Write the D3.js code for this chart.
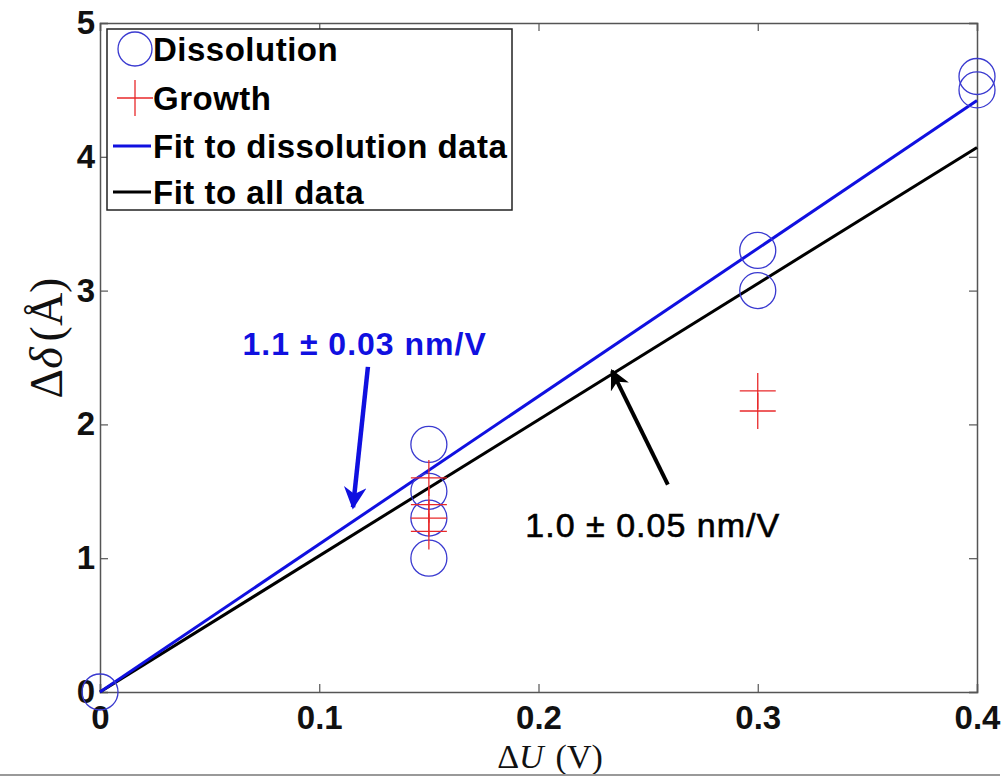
<!DOCTYPE html>
<html>
<head>
<meta charset="utf-8">
<script src="https://cdn.jsdelivr.net/npm/d3@7"></script>
<style>
  body { margin: 0; background: #fff; }
</style>
</head>
<body>
<div id="my_dataviz"></div>
<script>
// data
const dissolutionU = [0, 0.15, 0.15, 0.15, 0.15, 0.3, 0.3, 0.4, 0.4];
const dissolutionD = [0, 1.85, 1.5, 1.3, 1.0, 3.3, 3.0, 4.6, 4.5];
const growthU = [0.15, 0.15, 0.15, 0.15, 0.3, 0.3];
const growthD = [1.6, 1.4, 1.3, 1.2, 2.25, 2.1];
const fitDissolution = [[0, 0], [0.4, 4.42]];
const fitAll = [[0, 0], [0.4, 4.07]];
const xTicks = [0, 0.1, 0.2, 0.3, 0.4];
const yTicks = [0, 1, 2, 3, 4, 5];
const legendLabels = ["Dissolution", "Growth", "Fit to dissolution data", "Fit to all data"];

const W = 1008, H = 778;
const margin = { top: 23, right: 31, bottom: 86, left: 100 },
      width = W - margin.left - margin.right,
      height = H - margin.top - margin.bottom;

const root = d3.select("#my_dataviz")
  .append("svg")
  .attr("width", W)
  .attr("height", H);

const svg = root.append("g")
  .attr("transform", `translate(${margin.left},${margin.top})`);

const x = d3.scaleLinear().domain([0, 0.4]).range([0, width]);
const y = d3.scaleLinear().domain([0, 5]).range([height, 0]);

const tickFont = "'Liberation Sans', Arial, sans-serif";
const axisColor = "#555";

// axes (ticks inside, on all four sides)
const fmtX = d => d === 0 ? "0" : d3.format(".1f")(d);
const bottomAxis = svg.append("g")
  .attr("transform", `translate(0,${height})`)
  .call(d3.axisBottom(x).tickValues(xTicks).tickSize(-8).tickPadding(14).tickFormat(fmtX));
const leftAxis = svg.append("g")
  .call(d3.axisLeft(y).tickValues(yTicks).tickSize(-8).tickPadding(5).tickFormat(d3.format("d")));
const topAxis = svg.append("g")
  .call(d3.axisTop(x).tickValues(xTicks).tickSize(-8).tickFormat(""));
const rightAxis = svg.append("g")
  .attr("transform", `translate(${width},0)`)
  .call(d3.axisRight(y).tickValues(yTicks).tickSize(-8).tickFormat(""));

[bottomAxis, leftAxis, topAxis, rightAxis].forEach(a => {
  a.select(".domain").attr("stroke", axisColor).attr("stroke-width", 1.5);
  a.selectAll(".tick line").attr("stroke", axisColor).attr("stroke-width", 1.2);
  a.selectAll(".tick text")
    .attr("fill", "#111")
    .style("font-family", tickFont)
    .style("font-weight", "bold")
    .style("font-size", "33px");
});

// fit lines
const line = d3.line().x(d => x(d[0])).y(d => y(d[1]));
svg.append("path")
  .datum(fitAll)
  .attr("fill", "none")
  .attr("stroke", "#000")
  .attr("stroke-width", 3)
  .attr("d", line);
svg.append("path")
  .datum(fitDissolution)
  .attr("fill", "none")
  .attr("stroke", "#1010e0")
  .attr("stroke-width", 3)
  .attr("d", line);

// dissolution circles
const circleColor = "#3a3ad0";
svg.selectAll("circle.diss")
  .data(dissolutionU.map((u, i) => [u, dissolutionD[i]]))
  .enter()
  .append("circle")
  .attr("class", "diss")
  .attr("cx", d => x(d[0]))
  .attr("cy", d => y(d[1]))
  .attr("r", 18)
  .attr("fill", "none")
  .attr("stroke", circleColor)
  .attr("stroke-width", 1.3);

// growth crosses
const crossColor = "#e8282a";
const cs = 18;
const cross = svg.selectAll("g.growth")
  .data(growthU.map((u, i) => [u, growthD[i]]))
  .enter()
  .append("g")
  .attr("class", "growth")
  .attr("transform", d => `translate(${x(d[0])},${y(d[1])})`);
cross.append("line").attr("x1", -cs).attr("x2", cs).attr("y1", 0).attr("y2", 0);
cross.append("line").attr("x1", 0).attr("x2", 0).attr("y1", -cs).attr("y2", cs);
cross.selectAll("line").attr("stroke", crossColor).attr("stroke-width", 1.3);

// annotations with arrows
const defs = root.append("defs");
function marker(id, color) {
  defs.append("marker")
    .attr("id", id)
    .attr("viewBox", "0 0 10 10")
    .attr("refX", 9)
    .attr("refY", 5)
    .attr("markerWidth", 5)
    .attr("markerHeight", 5)
    .attr("markerUnits", "strokeWidth")
    .attr("orient", "auto")
    .append("path")
    .attr("d", "M0,0 L10,5 L0,10 L3,5 Z")
    .attr("fill", color);
}
marker("arrowBlue", "#1010e0");
marker("arrowBlack", "#000");

const annotations = [
  { text: "1.1 \u00b1 0.03 nm/V", tx: 0.065, ty: 2.52, from: [0.1222, 2.43], to: [0.1154, 1.38],
    color: "#1010e0", weight: "bold", size: 32, spacing: 1, mk: "arrowBlue", sw: 4.5 },
  { text: "1.0 \u00b1 0.05 nm/V", tx: 0.194, ty: 1.16, from: [0.259, 1.55], to: [0.2335, 2.40],
    color: "#000", weight: "normal", size: 34, spacing: 1, mk: "arrowBlack", sw: 4 }
];

annotations.forEach(a => {
  svg.append("line")
    .attr("x1", x(a.from[0])).attr("y1", y(a.from[1]))
    .attr("x2", x(a.to[0])).attr("y2", y(a.to[1]))
    .attr("stroke", a.color)
    .attr("stroke-width", a.sw)
    .attr("marker-end", `url(#${a.mk})`);
  svg.append("text")
    .attr("x", x(a.tx))
    .attr("y", y(a.ty))
    .attr("fill", a.color)
    .style("font-family", tickFont)
    .style("font-weight", a.weight)
    .style("font-size", a.size + "px")
    .style("letter-spacing", a.spacing + "px")
    .style("stroke", a.weight === "normal" ? a.color : "none")
    .style("stroke-width", 0.6)
    .text(a.text);
});

// legend
const legend = svg.append("g").attr("transform", "translate(7,6)");
legend.append("rect")
  .attr("width", 405)
  .attr("height", 181)
  .attr("fill", "#fff")
  .attr("stroke", "#222")
  .attr("stroke-width", 1.5);
const rowY = [20, 69, 117, 163];
legendLabels.forEach((lab, i) => {
  const g = legend.append("g").attr("transform", `translate(0,${rowY[i]})`);
  if (i === 0) {
    g.append("circle").attr("cx", 28).attr("cy", 0).attr("r", 17)
      .attr("fill", "none").attr("stroke", circleColor).attr("stroke-width", 1.3);
  } else if (i === 1) {
    g.append("line").attr("x1", 10).attr("x2", 46).attr("y1", 0).attr("y2", 0)
      .attr("stroke", crossColor).attr("stroke-width", 1.3);
    g.append("line").attr("x1", 28).attr("x2", 28).attr("y1", -18).attr("y2", 18)
      .attr("stroke", crossColor).attr("stroke-width", 1.3);
  } else {
    g.append("line").attr("x1", 6).attr("x2", 44).attr("y1", 0).attr("y2", 0)
      .attr("stroke", i === 2 ? "#1010e0" : "#000").attr("stroke-width", 3);
  }
  g.append("text")
    .attr("x", 46)
    .attr("y", 0)
    .attr("dy", "0.36em")
    .attr("fill", "#000")
    .style("font-family", tickFont)
    .style("font-weight", "bold")
    .style("font-size", "33px")
    .style("letter-spacing", "0.5px")
    .text(lab);
});

// axis labels (serif, italic symbols)
const serif = "'Liberation Serif', 'Times New Roman', serif";
const xl = root.append("text")
  .attr("x", 550)
  .attr("y", 768)
  .attr("text-anchor", "middle")
  .style("font-family", serif)
  .style("font-size", "34px")
  .attr("fill", "#111");
xl.append("tspan").text("\u0394");
xl.append("tspan").style("font-style", "italic").text("U");
xl.append("tspan").attr("dx", 12).text("(V)");

const yl = root.append("text")
  .attr("transform", "translate(62,338) rotate(-90)")
  .attr("text-anchor", "middle")
  .style("font-family", serif)
  .style("font-size", "46px")
  .attr("fill", "#111");
yl.append("tspan").text("\u0394");
yl.append("tspan").style("font-style", "italic").text("\u03b4");
yl.append("tspan").attr("dx", 6).text("(\u00c5)");

// thin gray rule at the bottom of the figure
root.append("line")
  .attr("x1", 0).attr("x2", 1000)
  .attr("y1", 775).attr("y2", 775)
  .attr("stroke", "#999")
  .attr("stroke-width", 2);
</script>
</body>
</html>
